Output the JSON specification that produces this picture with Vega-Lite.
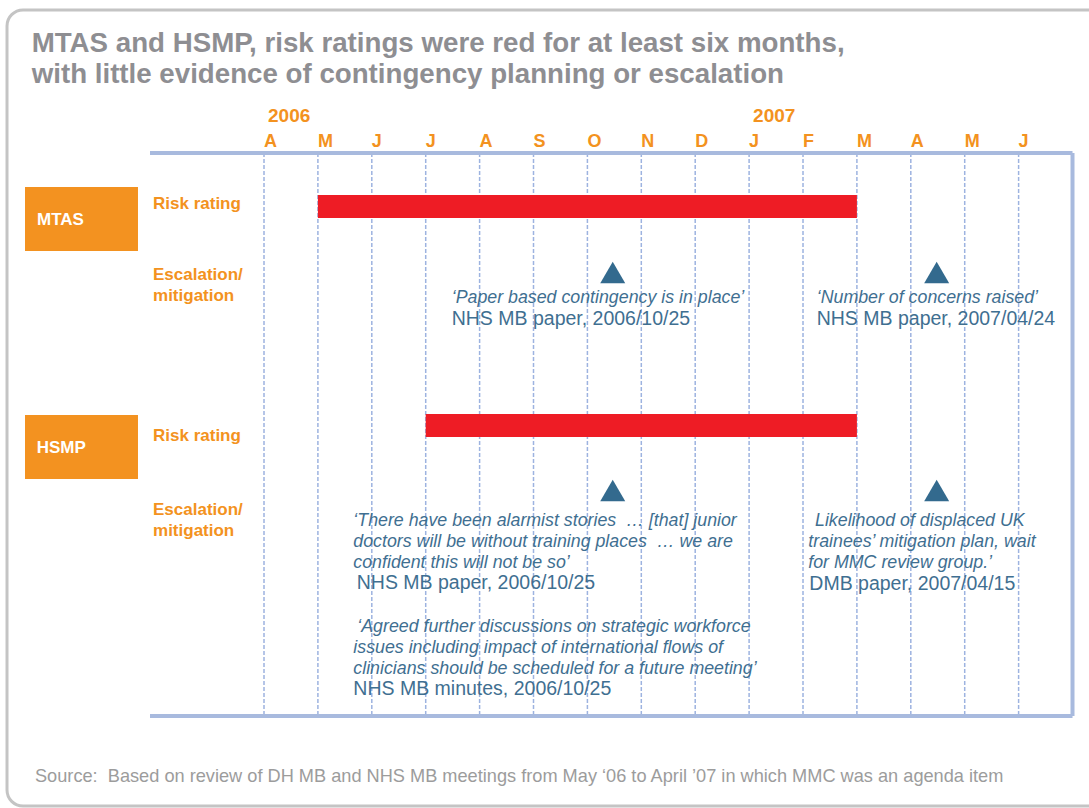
{
  "$schema": "https://vega.github.io/schema/vega-lite/v6.json",
  "width": 1089,
  "height": 808,
  "autosize": {"type": "none"},
  "padding": 0,
  "background": "white",
  "config": {"view": {"stroke": null}, "text": {"font": "Liberation Sans"}},
  "datasets": {
    "frame": [{"m": -4.768, "m2": 17, "row": 0.476, "row2": 38.381}],
    "months": [
      {"m": 0, "label": "A"}, {"m": 1, "label": "M"}, {"m": 2, "label": "J"}, {"m": 3, "label": "J"},
      {"m": 4, "label": "A"}, {"m": 5, "label": "S"}, {"m": 6, "label": "O"}, {"m": 7, "label": "N"},
      {"m": 8, "label": "D"}, {"m": 9, "label": "J"}, {"m": 10, "label": "F"}, {"m": 11, "label": "M"},
      {"m": 12, "label": "A"}, {"m": 13, "label": "M"}, {"m": 14, "label": "J"}
    ],
    "years": [{"m": 0, "label": "2006"}, {"m": 9, "label": "2007"}],
    "edges": [
      {"m": -2.115, "m2": 15, "row": 7.286, "row2": 7.286},
      {"m": -2.115, "m2": 15, "row": 34.095, "row2": 34.095},
      {"m": 15, "m2": 15, "row": 7.286, "row2": 34.095}
    ],
    "systems": [
      {"name": "MTAS", "m": -4.434, "m2": -2.338, "row": 8.905, "row2": 11.952},
      {"name": "HSMP", "m": -4.434, "m2": -2.338, "row": 19.762, "row2": 22.81}
    ],
    "systemLabels": [
      {"text": "MTAS", "m": -4.212, "row": 10.714},
      {"text": "HSMP", "m": -4.217, "row": 21.571}
    ],
    "rowLabels": [
      {"text": "Risk rating", "m": -2.059, "row": 9.952},
      {"text": "Escalation/", "m": -2.059, "row": 13.333},
      {"text": "mitigation", "m": -2.059, "row": 14.333},
      {"text": "Risk rating", "m": -2.059, "row": 21.0},
      {"text": "Escalation/", "m": -2.059, "row": 24.524},
      {"text": "mitigation", "m": -2.059, "row": 25.524}
    ],
    "redRatings": [
      {"system": "MTAS", "m": 1, "m2": 11, "row": 9.286, "row2": 10.381},
      {"system": "HSMP", "m": 3, "m2": 11, "row": 19.714, "row2": 20.81}
    ],
    "events": [
      {"system": "MTAS", "m": 6.47, "row": 12.976},
      {"system": "MTAS", "m": 12.48, "row": 12.976},
      {"system": "HSMP", "m": 6.47, "row": 23.357},
      {"system": "HSMP", "m": 12.48, "row": 23.357}
    ],
    "quotes": [
      {"m": 3.482, "row": 14.429, "text": "‘Paper based contingency is in place’"},
      {"m": 10.254, "row": 14.429, "text": "‘Number of concerns raised’"},
      {"m": 1.657, "row": 25.048, "text": "‘There have been alarmist stories  \u00a0… [that] junior"},
      {"m": 1.657, "row": 26.048, "text": "doctors will be without training places \u00a0… we are"},
      {"m": 1.657, "row": 27.048, "text": "confident this will not be so’"},
      {"m": 1.731, "row": 30.095, "text": "‘Agreed further discussions on strategic workforce"},
      {"m": 1.657, "row": 31.095, "text": "issues including impact of international flows of"},
      {"m": 1.657, "row": 32.095, "text": "clinicians should be scheduled for a future meeting’"},
      {"m": 10.223, "row": 25.048, "text": "Likelihood of displaced UK"},
      {"m": 10.098, "row": 26.048, "text": "trainees’ mitigation plan, wait"},
      {"m": 10.098, "row": 27.048, "text": "for MMC review group.’"}
    ],
    "citations": [
      {"m": 3.482, "row": 15.476, "text": "NHS MB paper, 2006/10/25"},
      {"m": 10.254, "row": 15.476, "text": "NHS MB paper, 2007/04/24"},
      {"m": 1.72, "row": 28.048, "text": "NHS MB paper, 2006/10/25"},
      {"m": 1.657, "row": 33.095, "text": "NHS MB minutes, 2006/10/25"},
      {"m": 10.117, "row": 28.095, "text": "DMB paper, 2007/04/15"}
    ],
    "title": [
      {"m": -4.31, "row": 2.476, "text": "MTAS and HSMP, risk ratings were red for at least six months,"},
      {"m": -4.31, "row": 3.952, "text": "with little evidence of contingency planning or escalation"}
    ],
    "source": [
      {"m": -4.249, "row": 37.238, "text": "Source: \u00a0Based on review of DH MB and NHS MB meetings from May ‘06 to April ’07 in which MMC was an agenda item"}
    ]
  },
  "layer": [
    {
      "data": {"name": "frame"},
      "mark": {"type": "rect", "filled": false, "stroke": "#c4c4c4", "strokeWidth": 3, "cornerRadius": 16},
      "encoding": {
        "x": {"field": "m", "type": "quantitative", "scale": {"domain": [-4.898, 15.306], "nice": false, "zero": false}, "axis": null},
        "x2": {"field": "m2"},
        "y": {"field": "row", "type": "quantitative", "scale": {"domain": [0, 38.476], "nice": false, "zero": false, "reverse": true}, "axis": null},
        "y2": {"field": "row2"}
      }
    },
    {
      "data": {"name": "months"},
      "mark": {"type": "rule", "stroke": "#9db3e0", "strokeWidth": 1.5, "strokeDash": [4, 2]},
      "encoding": {
        "x": {"field": "m", "type": "quantitative", "axis": null},
        "y": {"datum": 7.286, "type": "quantitative", "axis": null},
        "y2": {"datum": 34.095}
      }
    },
    {
      "data": {"name": "edges"},
      "mark": {"type": "rule", "stroke": "#a8bade", "strokeWidth": 4},
      "encoding": {
        "x": {"field": "m", "type": "quantitative", "axis": null},
        "x2": {"field": "m2"},
        "y": {"field": "row", "type": "quantitative", "axis": null},
        "y2": {"field": "row2"}
      }
    },
    {
      "data": {"name": "redRatings"},
      "mark": {"type": "rect", "color": "#ee1c25"},
      "encoding": {
        "x": {"field": "m", "type": "quantitative", "axis": null},
        "x2": {"field": "m2"},
        "y": {"field": "row", "type": "quantitative", "axis": null},
        "y2": {"field": "row2"}
      }
    },
    {
      "data": {"name": "systems"},
      "mark": {"type": "rect", "color": "#f39220"},
      "encoding": {
        "x": {"field": "m", "type": "quantitative", "axis": null},
        "x2": {"field": "m2"},
        "y": {"field": "row", "type": "quantitative", "axis": null},
        "y2": {"field": "row2"}
      }
    },
    {
      "data": {"name": "systemLabels"},
      "mark": {"type": "text", "align": "left", "baseline": "alphabetic", "fontSize": 17, "fontWeight": "bold", "color": "white"},
      "encoding": {
        "x": {"field": "m", "type": "quantitative", "axis": null},
        "y": {"field": "row", "type": "quantitative", "axis": null},
        "text": {"field": "text"}
      }
    },
    {
      "data": {"name": "rowLabels"},
      "mark": {"type": "text", "align": "left", "baseline": "alphabetic", "fontSize": 17, "fontWeight": "bold", "color": "#f39220"},
      "encoding": {
        "x": {"field": "m", "type": "quantitative", "axis": null},
        "y": {"field": "row", "type": "quantitative", "axis": null},
        "text": {"field": "text"}
      }
    },
    {
      "data": {"name": "months"},
      "mark": {"type": "text", "align": "left", "baseline": "alphabetic", "fontSize": 18, "fontWeight": "bold", "color": "#f39220"},
      "encoding": {
        "x": {"field": "m", "type": "quantitative", "axis": null},
        "y": {"datum": 7.0, "type": "quantitative", "axis": null},
        "text": {"field": "label"}
      }
    },
    {
      "data": {"name": "years"},
      "mark": {"type": "text", "align": "left", "baseline": "alphabetic", "fontSize": 19, "fontWeight": "bold", "color": "#f39220", "dx": 4},
      "encoding": {
        "x": {"field": "m", "type": "quantitative", "axis": null},
        "y": {"datum": 5.81, "type": "quantitative", "axis": null},
        "text": {"field": "label"}
      }
    },
    {
      "data": {"name": "events"},
      "mark": {"type": "point", "shape": "triangle-up", "size": 625, "filled": true, "color": "#336a8e", "opacity": 1, "strokeWidth": 0},
      "encoding": {
        "x": {"field": "m", "type": "quantitative", "axis": null},
        "y": {"field": "row", "type": "quantitative", "axis": null}
      }
    },
    {
      "data": {"name": "quotes"},
      "mark": {"type": "text", "align": "left", "baseline": "alphabetic", "fontSize": 17.8, "fontStyle": "italic", "color": "#3f6f91"},
      "encoding": {
        "x": {"field": "m", "type": "quantitative", "axis": null},
        "y": {"field": "row", "type": "quantitative", "axis": null},
        "text": {"field": "text"}
      }
    },
    {
      "data": {"name": "citations"},
      "mark": {"type": "text", "align": "left", "baseline": "alphabetic", "fontSize": 19.5, "color": "#3f6f91"},
      "encoding": {
        "x": {"field": "m", "type": "quantitative", "axis": null},
        "y": {"field": "row", "type": "quantitative", "axis": null},
        "text": {"field": "text"}
      }
    },
    {
      "data": {"name": "title"},
      "mark": {"type": "text", "align": "left", "baseline": "alphabetic", "fontSize": 27.7, "fontWeight": "bold", "color": "#8e8e92"},
      "encoding": {
        "x": {"field": "m", "type": "quantitative", "axis": null},
        "y": {"field": "row", "type": "quantitative", "axis": null},
        "text": {"field": "text"}
      }
    },
    {
      "data": {"name": "source"},
      "mark": {"type": "text", "align": "left", "baseline": "alphabetic", "fontSize": 18.2, "color": "#9c9c9c"},
      "encoding": {
        "x": {"field": "m", "type": "quantitative", "axis": null},
        "y": {"field": "row", "type": "quantitative", "axis": null},
        "text": {"field": "text"}
      }
    }
  ]
}
